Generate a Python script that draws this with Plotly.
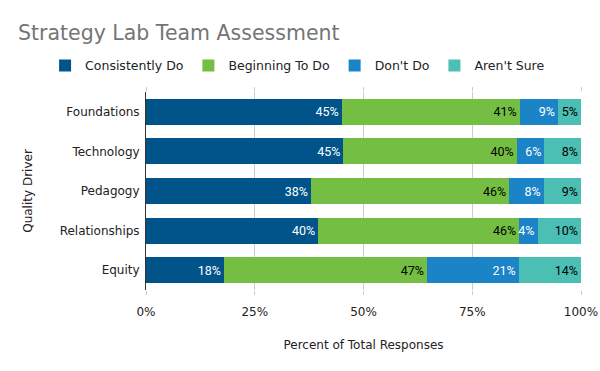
import plotly.graph_objects as go

categories = ["Foundations", "Technology", "Pedagogy", "Relationships", "Equity"]
series_names = ["Consistently Do", "Beginning To Do", "Don't Do", "Aren't Sure"]
consistently_do = [45.0, 45.4, 37.9, 39.6, 17.9]
beginning_to_do = [40.9, 39.8, 45.6, 46.2, 46.7]
dont_do = [8.8, 6.4, 7.9, 4.2, 21.1]
arent_sure = [5.3, 8.4, 8.6, 10.0, 14.3]
x_tick_vals = [0, 25, 50, 75, 100]
x_tick_text = ["0%", "25%", "50%", "75%", "100%"]

series_values = [consistently_do, beginning_to_do, dont_do, arent_sure]
colors = ["#00548a", "#74bf43", "#1b84c7", "#4bbfb3"]
text_colors = ["white", "black", "white", "black"]

fig = go.Figure()
for name, vals, col, tcol in zip(series_names, series_values, colors, text_colors):
    fig.add_trace(go.Bar(
        y=categories, x=vals, name=name, orientation="h",
        marker=dict(color=col, line=dict(width=0)),
        texttemplate="%{x:.0f}%", textposition="inside",
        insidetextanchor="end", textangle=0, constraintext="none",
        textfont=dict(color=tcol, size=12.5, family="Roboto"),
        hoverinfo="skip",
    ))

fig.update_layout(
    barmode="stack",
    bargap=0.34,
    width=600, height=371,
    margin=dict(l=146, r=19, t=92, b=81, autoexpand=False),
    paper_bgcolor="white", plot_bgcolor="white",
    font=dict(family="DejaVu Sans", size=12, color="#222"),
    title=dict(text="Strategy Lab Team Assessment", x=0.03, xanchor="left",
               y=0.912, yanchor="middle",
               font=dict(size=20.5, color="#757575", family="DejaVu Sans")),
    legend=dict(orientation="h", xref="paper", yref="paper",
                x=-0.232, xanchor="left", y=1.132, yanchor="middle",
                font=dict(size=12.5, color="#222"), traceorder="normal"),
    showlegend=True,
)
fig.update_xaxes(range=[0, 100], tickvals=x_tick_vals, ticktext=x_tick_text,
                 showgrid=True, gridcolor="#cccccc", gridwidth=1,
                 zeroline=False, showline=False, mirror="ticks",
                 ticks="outside", ticklen=4, tickcolor="#cccccc",
                 ticklabelstandoff=7,
                 title=dict(text="Percent of Total Responses", standoff=22,
                            font=dict(size=12)),
                 tickfont=dict(size=12), automargin=False)
fig.update_yaxes(autorange="reversed", showline=True, linecolor="#333", linewidth=1,
                 showgrid=False, ticks="", ticklabelstandoff=3, automargin=False,
                 title=dict(text="Quality Driver", standoff=24, font=dict(size=12)),
                 tickfont=dict(size=12))

fig.write_html("out.html", config={"displayModeBar": False},
               post_script="document.body.style.margin='0';")
